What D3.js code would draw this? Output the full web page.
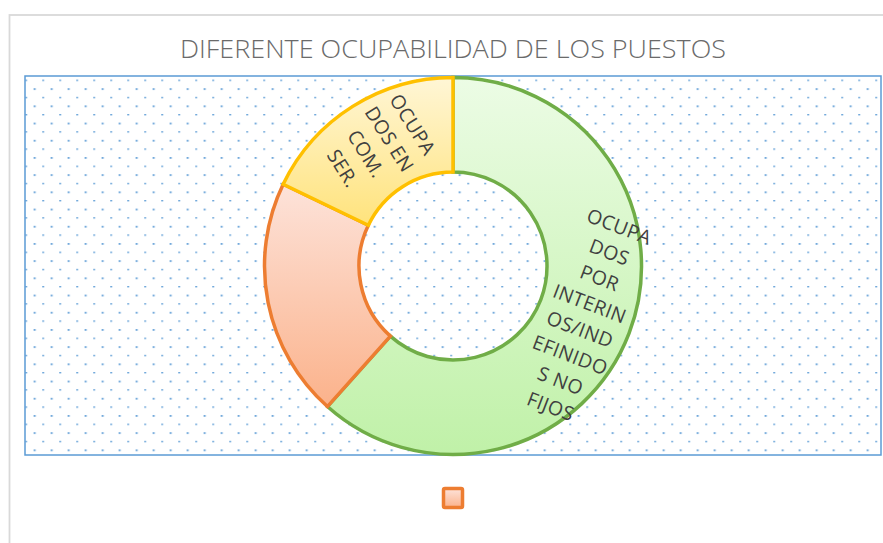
<!DOCTYPE html>
<html>
<head>
<meta charset="utf-8">
<script src="https://cdn.jsdelivr.net/npm/d3@7"></script>
<style>
  body { margin: 0; background: #ffffff; }
  svg { display: block; }
</style>
</head>
<body>
<div id="chart"></div>
<script>
var svgWidth = 883;
var svgHeight = 543;

// chart data
var categories = ["OCUPADOS POR INTERINOS/INDEFINIDOS NO FIJOS", "", "OCUPADOS EN COM. SER."];
var values = [69, 23, 20];
var labelLines = [
  ["OCUPA", "DOS", "POR", "INTERIN", "OS/IND", "EFINIDO", "S NO", "FIJOS"],
  [],
  ["OCUPA", "DOS EN", "COM.", "SER."]
];
var legendItems = [1];   // only this entry is left in the legend

var strokeColors = ["#70ad47", "#ed7d31", "#ffc000"];
var gradStops = [
  ["#ecfce5", "#c0f1a8"],
  ["#fde3da", "#fbb28b"],
  ["#fff6d6", "#ffe37c"]
];

var plot = { left: 25, top: 76, right: 881, bottom: 455 };
var cx = 453, cy = 266;
var outerR = 188.5, innerR = 94;

var svg = d3.select("#chart")
  .append("svg")
  .attr("width", svgWidth)
  .attr("height", svgHeight);

var defs = svg.append("defs");

// dotted fill of the plot area
var pattern = defs.append("pattern")
  .attr("id", "dots")
  .attr("patternUnits", "userSpaceOnUse")
  .attr("x", plot.left + 0.3)
  .attr("y", plot.top + 3.6)
  .attr("width", 17)
  .attr("height", 17.2);
pattern.append("rect")
  .attr("x", 0).attr("y", 0)
  .attr("width", 1.8).attr("height", 1.4)
  .attr("fill", "#5b9bd5");
pattern.append("rect")
  .attr("x", 8.5).attr("y", 8.6)
  .attr("width", 1.8).attr("height", 1.8)
  .attr("fill", "#5b9bd5");

// one gradient per slice
gradStops.forEach(function(s, i) {
  var g = defs.append("linearGradient")
    .attr("id", "grad" + i)
    .attr("x1", 0).attr("y1", 0)
    .attr("x2", 0).attr("y2", 1);
  g.append("stop").attr("offset", "0%").attr("stop-color", s[0]);
  g.append("stop").attr("offset", "100%").attr("stop-color", s[1]);
});

// chart area frame
svg.append("rect")
  .attr("x", 9.5)
  .attr("y", 15)
  .attr("width", 1000)
  .attr("height", 700)
  .attr("fill", "#ffffff")
  .attr("stroke", "#d9d9d9")
  .attr("stroke-width", 1.8);

// title
svg.append("text")
  .attr("x", cx)
  .attr("y", 58)
  .attr("text-anchor", "middle")
  .attr("font-family", "'Open Sans', sans-serif")
  .attr("font-weight", 300)
  .attr("font-size", 26)
  .attr("fill", "#6a6a6a")
  .attr("textLength", 546)
  .attr("lengthAdjust", "spacingAndGlyphs")
  .text("DIFERENTE OCUPABILIDAD DE LOS PUESTOS");

// plot area
svg.append("rect")
  .attr("x", plot.left)
  .attr("y", plot.top)
  .attr("width", plot.right - plot.left)
  .attr("height", plot.bottom - plot.top)
  .attr("fill", "url(#dots)")
  .attr("stroke", "#5b9bd5")
  .attr("stroke-width", 1.5);

var pie = d3.pie().sort(null).value(d => d);
var arc = d3.arc().innerRadius(innerR).outerRadius(outerR);

var arcs = pie(values);

var chartGroup = svg.append("g")
  .attr("transform", `translate(${cx}, ${cy})`);

chartGroup.selectAll("path")
  .data(arcs)
  .enter()
  .append("path")
  .attr("d", arc)
  .attr("fill", (d, i) => `url(#grad${i})`)
  .attr("stroke", (d, i) => strokeColors[i])
  .attr("stroke-width", 3.5)
  .attr("stroke-linejoin", "miter");

// rotated data labels, tangent to the ring
var lineH = 27.5;
var labels = chartGroup.selectAll("g.label")
  .data(arcs)
  .enter()
  .append("g")
  .attr("class", "label")
  .attr("transform", function(d) {
    var c = arc.centroid(d);
    var mid = (d.startAngle + d.endAngle) / 2 * 180 / Math.PI;
    var rot = mid - 90;
    while (rot > 90) rot -= 180;
    while (rot < -90) rot += 180;
    return `translate(${c[0]}, ${c[1]}) rotate(${rot})`;
  });

labels.each(function(d, i) {
  var lines = labelLines[i];
  var n = lines.length;
  d3.select(this).selectAll("text")
    .data(lines)
    .enter()
    .append("text")
    .attr("x", 0)
    .attr("y", (t, k) => (k - (n - 1) / 2) * lineH)
    .attr("dy", "0.36em")
    .attr("text-anchor", "middle")
    .attr("font-family", "'Open Sans', sans-serif")
    .attr("font-size", 19.5)
    .attr("letter-spacing", 0.4)
    .attr("fill", "#404040")
    .text(t => t);
});

// legend (only one marker, no text)
var legend = svg.append("g")
  .attr("transform", `translate(${cx}, 498)`);

legend.selectAll("rect")
  .data(legendItems)
  .enter()
  .append("rect")
  .attr("x", -9.5)
  .attr("y", -9.5)
  .attr("width", 19)
  .attr("height", 19)
  .attr("rx", 1.5)
  .attr("fill", i => `url(#grad${i})`)
  .attr("stroke", i => strokeColors[i])
  .attr("stroke-width", 3.5);
</script>
</body>
</html>
